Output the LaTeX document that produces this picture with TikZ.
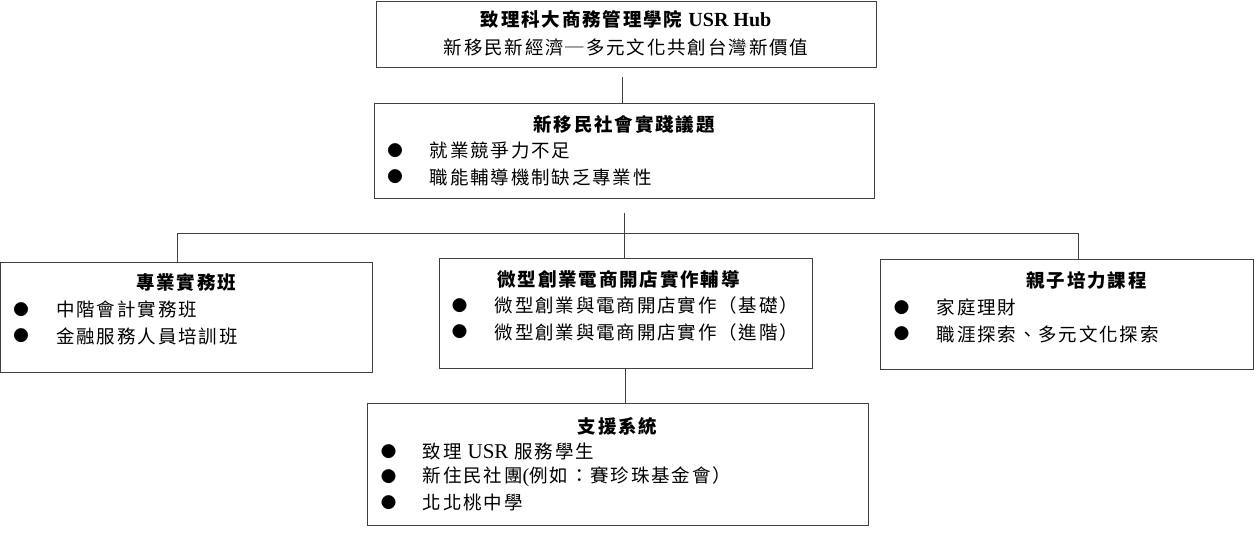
\documentclass[tikz,border=0pt]{standalone}
\usepackage{fontspec}
\setmainfont{Liberation Serif}
\newfontfamily\cjk{Noto Sans CJK TC}[LetterSpace=10]
\usetikzlibrary{calc, positioning}

\tikzset{
	box/.style={draw=black!75, line width=0.8pt, inner sep=0pt, minimum width=373pt, minimum height=110pt},
	line/.style={black!75, line width=0.8pt},
	head/.style={font=\cjk\bfseries\fontsize{18.5}{20}\selectfont, inner sep=0pt},
	item/.style={anchor=west, font=\cjk\fontsize{18.5}{20}\selectfont, inner sep=0pt},
	dot/.style={font=\cjk\fontsize{15.5}{15}\selectfont, inner sep=0pt}
}

\begin{document}
\begin{tikzpicture}[x=1pt, y=-1pt]
				\useasboundingbox (0,0) rectangle (1255,546);
				
				% boxes
				\node[box, minimum width=500pt, minimum height=66pt] (hub) at (626,34) {};
				\node[box, minimum width=500pt, minimum height=95pt] (issue) at (624,150.5) {};
				\node[box, minimum width=371.5pt] (pro) at (186.25,317) {};
				\node[box] (shop) at (625.5,313) {};
				\node[box] (family) at (1066.5,314) {};
				\node[box, minimum width=501pt, minimum height=122pt] (support) at (617.5,464) {};
				
				% headings
				\node[head] (hub-t) at ($(hub.north)+(0,19)$) {致理科大商務管理學院 {\rmfamily\fontsize{20}{20}\selectfont USR Hub}};
				\node[head, font=\cjk\fontsize{18.5}{20}\selectfont] (hub-s) at ($(hub.north)+(0,47)$) {新移民新經濟─多元文化共創台灣新價值};
				\node[head] (issue-t) at ($(issue.north)+(0,22)$) {新移民社會實踐議題};
				\node[head] (pro-t) at ($(pro.north)+(0,21)$) {專業實務班};
				\node[head] (shop-t) at ($(shop.north)+(-7,22)$) {微型創業電商開店實作輔導};
				\node[head] (family-t) at ($(family.north)+(20,22)$) {親子培力課程};
				\node[head] (support-t) at ($(support.north)+(0,24)$) {支援系統};
				
				% bullet items
				\foreach \txt [count=\i] in {就業競爭力不足, 職能輔導機制缺乏專業性} {
					\node[dot] (issue-d\i) at ($(issue.north west)+(21.5,{48+26.5*(\i-1)})$) {●};
					\node[item] (issue-\i) at ($(issue.north west)+(56,{48+26.5*(\i-1)})$) {\txt};
				}
				\foreach \txt [count=\i] in {中階會計實務班, 金融服務人員培訓班} {
					\node[dot] (pro-d\i) at ($(pro.north west)+(21,{48+26.5*(\i-1)})$) {●};
					\node[item] (pro-\i) at ($(pro.north west)+(56,{48+26.5*(\i-1)})$) {\txt};
				}
				\foreach \txt [count=\i] in {微型創業與電商開店實作（基礎）, 微型創業與電商開店實作（進階）} {
					\node[dot] (shop-d\i) at ($(shop.north west)+(21,{48+26.5*(\i-1)})$) {●};
					\node[item] (shop-\i) at ($(shop.north west)+(56,{48+26.5*(\i-1)})$) {\txt};
				}
				\foreach \txt [count=\i] in {家庭理財, 職涯探索、多元文化探索} {
					\node[dot] (family-d\i) at ($(family.north west)+(22,{49+26.5*(\i-1)})$) {●};
					\node[item] (family-\i) at ($(family.north west)+(57,{49+26.5*(\i-1)})$) {\txt};
				}
				\foreach \txt [count=\i] in {致理 {\rmfamily\fontsize{21}{20}\selectfont USR} 服務學生, 新住民社團{\rmfamily\fontsize{20}{20}\selectfont (}例如：賽珍珠基金會）, 北北桃中學} {
					\node[dot] (support-d\i) at ($(support.north west)+(22,{49+25.5*(\i-1)})$) {●};
					\node[item] (support-\i) at ($(support.north west)+(56,{49+25.5*(\i-1)})$) {\txt};
				}
				
				% connectors
				\coordinate (split) at (624,233);
				\coordinate (split-l) at (177,233);
				\coordinate (split-r) at (1078,233);
				\draw[line] ([xshift=-4pt, yshift=-10pt]hub.south) -- ([xshift=-2pt]issue.north);
				\draw[line] ([yshift=-15pt]issue.south) -- (split);
				\draw[line] (split-l) -- (split-r);
				\draw[line] (split-l) -- (split-l |- pro.north);
				\draw[line] (split) -- (split |- shop.north);
				\draw[line] (split-r) -- (split-r |- family.north);
				\draw[line] (shop.south) -- (shop.south |- support.north);
\end{tikzpicture}
\end{document}
